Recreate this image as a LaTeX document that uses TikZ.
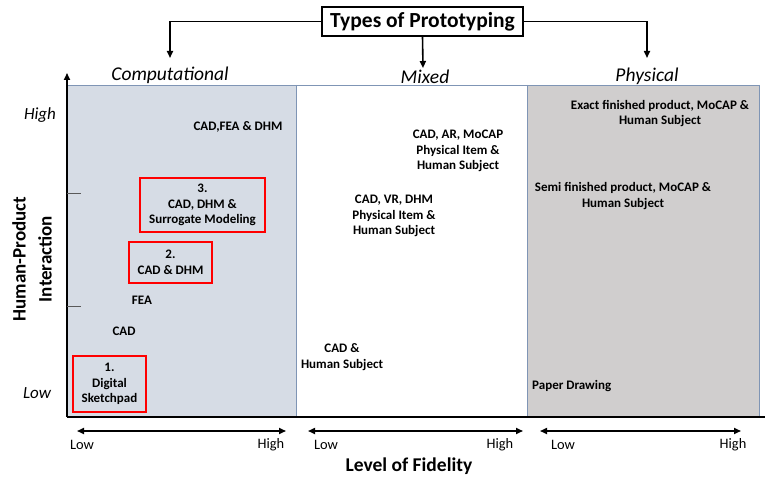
\documentclass[tikz,border=0pt]{standalone}
\usepackage{fontspec}
\setmainfont{Carlito}
\usetikzlibrary{arrows.meta}
\definecolor{compfill}{HTML}{D6DCE5}
\definecolor{physfill}{HTML}{D0CECE}
\definecolor{regionline}{HTML}{7F95B5}
\tikzset{
  lbl/.style={font=\bfseries\fontsize{13}{15.5}\selectfont, align=center, inner sep=0pt},
  redbox/.style={draw=red, line width=2.4pt, lbl, inner sep=0pt},
  cat/.style={font=\itshape\fontsize{19.5}{22}\selectfont, inner sep=0pt},
  axlbl/.style={font=\itshape\fontsize{17}{19}\selectfont, inner sep=0pt},
  fid/.style={font=\fontsize{14.4}{16}\selectfont, inner sep=0pt},
  conn/.style={line width=1.6pt, -{Triangle[length=7pt,width=6pt]}},
  fidarrow/.style={line width=1.6pt, {Triangle[length=7pt,width=6pt]}-{Triangle[length=7pt,width=6pt]}},
  region/.style={draw=regionline, line width=0.8pt}
}
\begin{document}
\begin{tikzpicture}[x=1pt,y=-1pt]
\useasboundingbox (0,0) rectangle (765,478);
% regions
\fill[compfill] (67,85) rectangle (296,417);
\fill[physfill] (527,85) rectangle (759,417);
\draw[region] (67,85) -- (759,85);
\draw[region] (296,85) -- (296,417);
\draw[region] (527,85) -- (527,417);
\draw[region] (759,85) -- (759,417);
% title
\node[draw, line width=1.4pt, minimum width=201pt, minimum height=29pt, inner sep=0pt,
      font=\bfseries\fontsize{21.5}{24}\selectfont] (title) at (422.5,21.5) {Types of Prototyping};
\coordinate (ct) at (170,58);
\coordinate (mt) at (423,68);
\coordinate (pt) at (647,58);
\draw[conn] (title.west) -| (ct);
\draw[conn] (title.south) -- (mt);
\draw[conn] (title.east) -| (pt);
\node[cat] (comp) at (170,75) {Computational};
\node[cat] (mixed) at (425,77) {Mixed};
\node[cat] (phys) at (647,76) {Physical};
% axes
\coordinate (O) at (67,417);
\coordinate (yt) at (67,73);
\coordinate (xe) at (765,417);
\draw[line width=2pt] (xe) -- (O);
\draw[line width=1.6pt, -{Triangle[length=7pt,width=6pt]}] (O) -- (yt);
\coordinate (t1a) at (67,193); \coordinate (t1b) at (81,193);
\coordinate (t2a) at (67,306); \coordinate (t2b) at (81,306);
\draw[line width=0.6pt, gray!70!black] (t1a) -- (t1b);
\draw[line width=0.6pt, gray!70!black] (t2a) -- (t2b);
\node[axlbl] (high) at (40,115) {High};
\node[axlbl] (low) at (37,393) {Low};
\node[rotate=90, align=center, font=\bfseries\fontsize{19}{26}\selectfont, inner sep=0pt] (ylab) at (32,259) {Human-Product\\Interaction};
% computational contents
\node[lbl] (cfd) at (238,127) {CAD,FEA \& DHM};
\node[redbox, minimum width=125pt, minimum height=54pt] (b3) at (202.5,205) {3.\\CAD, DHM \&\\Surrogate Modeling};
\node[redbox, minimum width=83pt, minimum height=41pt] (b2) at (170.5,262.5) {2.\\CAD \& DHM};
\node[lbl] (fea) at (142,300) {FEA};
\node[lbl] (cad) at (124,331) {CAD};
\node[redbox, minimum width=73pt, minimum height=56pt] (b1) at (109.5,384) {1.\\Digital\\Sketchpad};
% mixed contents
\node[lbl] (m1) at (342,357) {CAD \&\\Human Subject};
\node[lbl] (m2) at (394,216) {CAD, VR, DHM\\Physical Item \&\\Human Subject};
\node[lbl] (m3) at (458,151) {CAD, AR, MoCAP\\Physical Item \&\\Human Subject};
% physical contents
\node[lbl] (p1) at (660,113.5) {Exact finished product, MoCAP \&\\Human Subject};
\node[lbl] (p2) at (623,196) {Semi finished product, MoCAP \&\\Human Subject};
\node[lbl, anchor=west] (p3) at (532,386) {Paper Drawing};
% fidelity arrows
\coordinate (f1a) at (77,431); \coordinate (f1b) at (286,431);
\coordinate (f2a) at (308,431); \coordinate (f2b) at (523,431);
\coordinate (f3a) at (540,431); \coordinate (f3b) at (741,431);
\draw[fidarrow] (f1a) -- (f1b);
\draw[fidarrow] (f2a) -- (f2b);
\draw[fidarrow] (f3a) -- (f3b);
\node[fid] (l1) at (82,445) {Low};
\node[fid] (h1) at (271,445) {High};
\node[fid] (l2) at (326,445) {Low};
\node[fid] (h2) at (500,445) {High};
\node[fid] (l3) at (563,445) {Low};
\node[fid] (h3) at (733,445) {High};
\node[font=\bfseries\fontsize{19.5}{22}\selectfont, inner sep=0pt] (xlab) at (409,466) {Level of Fidelity};
\end{tikzpicture}
\end{document}
